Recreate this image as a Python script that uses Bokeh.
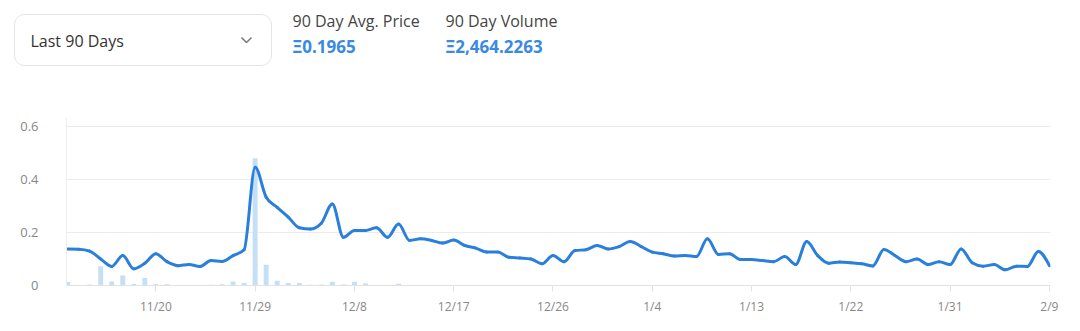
import numpy as np
import pandas as pd
from bokeh.plotting import figure
from bokeh.models import Range1d, FixedTicker, BoxAnnotation, ColumnDataSource
from bokeh.layouts import column
from bokeh.core.properties import value
from bokeh.embed import file_html
from bokeh.resources import INLINE

# ---------------- data ----------------
start_date = "2021-11-12"
end_date = "2022-02-09"

price = [
    0.138, 0.137, 0.130, 0.100, 0.072, 0.113, 0.063, 0.084, 0.120, 0.090,
    0.075, 0.079, 0.072, 0.094, 0.091, 0.113, 0.135, 0.446, 0.333, 0.295,
    0.258, 0.218, 0.213, 0.235, 0.308, 0.182, 0.208, 0.208, 0.218, 0.182,
    0.232, 0.170, 0.176, 0.170, 0.160, 0.172, 0.151, 0.141, 0.126, 0.126,
    0.107, 0.104, 0.100, 0.082, 0.113, 0.090, 0.132, 0.135, 0.151, 0.138,
    0.147, 0.166, 0.147, 0.126, 0.120, 0.111, 0.113, 0.109, 0.176, 0.117,
    0.120, 0.098, 0.098, 0.094, 0.090, 0.109, 0.079, 0.166, 0.113, 0.084,
    0.089, 0.086, 0.082, 0.074, 0.136, 0.113, 0.090, 0.100, 0.079, 0.090,
    0.079, 0.138, 0.086, 0.073, 0.079, 0.059, 0.073, 0.072, 0.128, 0.075,
]

volume = [
    34, 5, 10, 193, 40, 101, 16, 74, 13, 13,
    5, 3, 3, 8, 13, 40, 24, 1272, 207, 48,
    26, 26, 8, 10, 37, 10, 37, 21, 5, 5,
    18, 6, 3, 2, 2, 3, 2, 2, 1, 2,
    2, 3, 2, 2, 4, 3, 2, 2, 3, 2,
    2, 3, 2, 2, 1, 2, 2, 3, 4, 2,
    2, 2, 1, 2, 2, 2, 2, 4, 2, 2,
    2, 1, 2, 2, 4, 2, 2, 2, 2, 2,
    2, 3, 2, 2, 2, 1, 2, 2, 3, 2,
]

x_tick_labels = ["11/20", "11/29", "12/8", "12/17", "12/26", "1/4", "1/13", "1/22", "1/31", "2/9"]
y_ticks = [0, 0.2, 0.4, 0.6]
y_tick_labels = ["0", "0.2", "0.4", "0.6"]

range_label = "Last 90 Days"
stat_titles = ["90 Day Avg. Price", "90 Day Volume"]
stat_values = ["Ξ0.1965", "Ξ2,464.2263"]

# ---------------- prep ----------------
dates = pd.date_range(start_date, end_date, freq="D")
xs = np.arange(len(dates), dtype=float)
date_labels = [f"{d.month}/{d.day}" for d in dates]
tick_pos = [float(date_labels.index(t)) for t in x_tick_labels]

y = np.array(price, dtype=float)


def monotone_tangents(x, yv):
    n = len(x)
    h = np.diff(x)
    s = np.diff(yv) / h
    m = np.zeros(n)
    for i in range(1, n - 1):
        s0, s1 = s[i - 1], s[i]
        h0, h1 = h[i - 1], h[i]
        p_ = (s0 * h1 + s1 * h0) / (h0 + h1)
        m[i] = (np.sign(s0) + np.sign(s1)) * min(abs(s0), abs(s1), 0.5 * abs(p_))
    m[0] = (3 * s[0] - m[1]) / 2
    m[-1] = (3 * s[-1] - m[-2]) / 2
    return m


m = monotone_tangents(xs, y)
hseg = np.diff(xs)
seg = ColumnDataSource(dict(
    x0=xs[:-1], y0=y[:-1], x1=xs[1:], y1=y[1:],
    cx0=xs[:-1] + hseg / 3, cy0=y[:-1] + m[:-1] * hseg / 3,
    cx1=xs[1:] - hseg / 3, cy1=y[1:] - m[1:] * hseg / 3,
))
bars = ColumnDataSource(dict(x=xs, top=volume))

FONT = "Open Sans"
LINE = "#2a7fdc"
BAR = "#c5dff6"
BLUE_TXT = "#3a8ae2"

# ---------------- header ----------------
hdr = figure(width=1080, height=95, x_range=Range1d(0, 1080), y_range=Range1d(95, 0),
             x_axis_type=None, y_axis_type=None, output_backend="svg",
             toolbar_location=None, min_border=0, outline_line_color=None)
hdr.frame_align = False
hdr.add_layout(BoxAnnotation(left=14, right=271, top=14, bottom=65, border_radius=10,
                             fill_color="white", fill_alpha=1.0, level="underlay",
                             line_color="#e4e4e4", line_alpha=1.0, line_width=1))
hdr.text(x=[30], y=[40], text=[range_label], text_baseline="middle",
         text_font=value(FONT), text_font_size="16px", text_color="#333333")
hdr.line(x=[241, 246, 251], y=[37, 42, 37], line_color="#777777", line_width=1.5)
hdr.text(x=[292, 445], y=[20, 20], text=stat_titles, text_baseline="middle",
         text_font=value(FONT), text_font_size="16px", text_color="#444444")
hdr.text(x=[292, 445], y=[46, 46], text=stat_values, text_baseline="middle",
         text_font=value(FONT), text_font_size="17px", text_font_style="bold",
         text_color=BLUE_TXT)

# ---------------- chart ----------------
p = figure(width=1080, height=236, x_range=Range1d(-0.1, 89.1), y_range=Range1d(0, 0.634),
           output_backend="svg", toolbar_location=None,
           min_border_left=66, min_border_right=30, min_border_top=22, min_border_bottom=46,
           outline_line_color=None)
p.frame_align = False
p.extra_y_ranges = {"vol": Range1d(0, 1680)}

p.vbar(x="x", top="top", width=0.45, source=bars, y_range_name="vol",
       fill_color=BAR, line_color=None)
p.bezier(x0="x0", y0="y0", x1="x1", y1="y1", cx0="cx0", cy0="cy0", cx1="cx1", cy1="cy1",
         source=seg, line_color=LINE, line_width=3, line_cap="round")

p.xgrid.visible = False
p.ygrid.ticker = FixedTicker(ticks=y_ticks)
p.ygrid.grid_line_color = "#ececec"

p.xaxis.ticker = FixedTicker(ticks=tick_pos)
p.xaxis.major_label_overrides = {t: lab for t, lab in zip(tick_pos, x_tick_labels)}
p.xaxis.axis_line_color = "#e2e2e2"
p.xaxis.major_tick_line_color = "#e2e2e2"
p.xaxis.major_tick_out = 6
p.xaxis.major_tick_in = 0
p.xaxis.minor_tick_line_color = None
p.xaxis.major_label_standoff = 6
p.xaxis.major_label_text_font = FONT
p.xaxis.major_label_text_font_size = "12px"
p.xaxis.major_label_text_color = "#888888"

p.yaxis.ticker = FixedTicker(ticks=y_ticks)
p.yaxis.major_label_overrides = {t: lab for t, lab in zip(y_ticks, y_tick_labels)}
p.yaxis.axis_line_color = "#eeeeee"
p.yaxis.major_tick_line_color = None
p.yaxis.minor_tick_line_color = None
p.yaxis.major_label_standoff = 22
p.yaxis.major_label_text_font = FONT
p.yaxis.major_label_text_font_size = "13px"
p.yaxis.major_label_text_color = "#888888"

layout = column(hdr, p, spacing=0)
open("out.html", "w").write(file_html(layout, INLINE))
